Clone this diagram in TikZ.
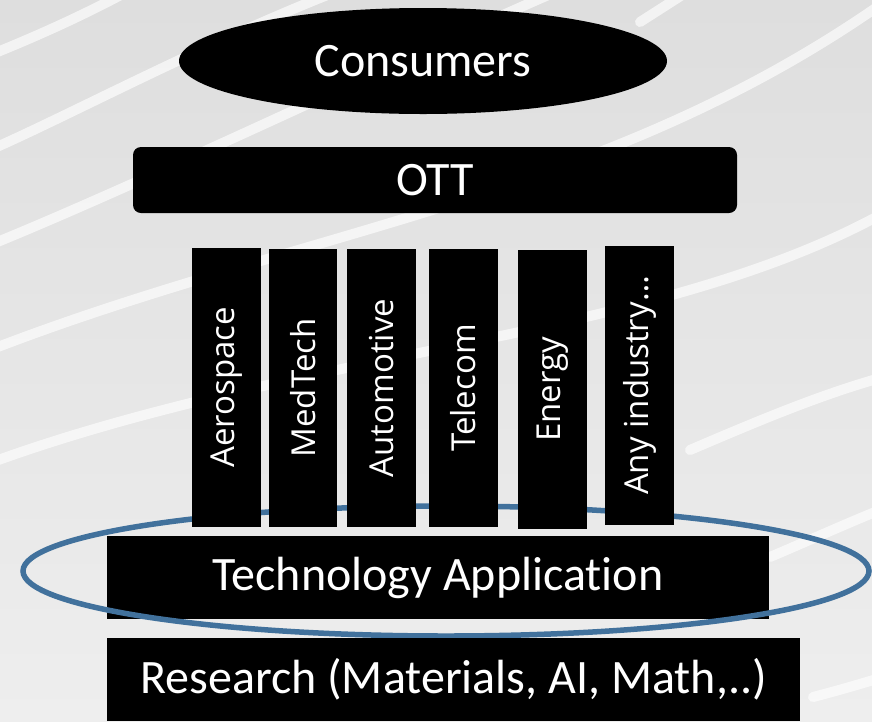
\documentclass[tikz,border=0pt]{standalone}
\usepackage{fontspec}
\setmainfont{Carlito}[Ligatures=NoCommon]
\newfontfamily\barfont{Open Sans}
\usetikzlibrary{shapes.geometric}
\definecolor{bgtop}{RGB}{222,222,222}
\definecolor{bgbot}{RGB}{238,238,238}
\definecolor{ringblue}{RGB}{65,113,156}
\tikzset{
  stripe/.style={white, opacity=0.65, line width=10pt, line cap=round},
  blackbox/.style={fill=black, draw=none, text=white, inner sep=0pt, font=\fontsize{48}{52}\selectfont},
  barbox/.style={fill=black, draw=none, text=white, inner sep=0pt, rotate=90,
    minimum height=69pt, font=\barfont\fontsize{33}{36}\selectfont},
}
\begin{document}
\begin{tikzpicture}[x=1pt,y=-1pt]
\useasboundingbox (0,0) rectangle (872,721);
% background
\shade[top color=bgtop, bottom color=bgbot] (0,0) rectangle (872,721);
\draw[stripe] (-10,55) .. controls (40,35) and (90,12) .. (130,-10);
\draw[stripe] (-10,150) .. controls (70,115) and (200,45) .. (340,-10);
\draw[stripe] (-10,245) .. controls (150,180) and (420,50) .. (560,-10);
\draw[stripe] (-10,350) .. controls (300,230) and (600,200) .. (880,5);
\draw[stripe] (-10,463) .. controls (300,350) and (650,340) .. (880,215);
\draw[stripe] (690,450) .. controls (760,420) and (820,395) .. (880,378);
\draw[stripe] (770,557) .. controls (810,540) and (850,522) .. (880,510);
\draw[stripe] (813,697) .. controls (840,690) and (860,684) .. (880,678);
\draw[stripe] (640,22) -- (690,-10);
% top
\node[blackbox, ellipse, minimum width=488pt, minimum height=106pt] (cons) at (423,61) {Consumers};
\node[blackbox, rounded corners=8pt, minimum width=604pt, minimum height=66pt] (ott) at (435,180) {OTT};
% technology application
\node[blackbox, minimum width=662pt, minimum height=83pt] (tech) at (438,577.5) {Technology Application};
\node[draw=ringblue, line width=5.5pt, ellipse, minimum width=846pt, minimum height=130pt, inner sep=0pt] (ring) at (446,571) {};
% industry bars
\node[barbox, minimum width=279pt] (aero) at (226.5,387.5) {Aerospace};
\node[barbox, minimum width=278pt, minimum height=68pt] (med) at (303,388) {MedTech};
\node[barbox, minimum width=278pt] (auto) at (381.5,388) {Automotive};
\node[barbox, minimum width=278pt] (tele) at (463.5,388) {Telecom};
\node[barbox, minimum width=279pt] (ener) at (552.5,389.5) {Energy};
\node[barbox, minimum width=279pt] (any) at (639.5,385.5) {Any industry…};
% research
\node[blackbox, minimum width=693pt, minimum height=83pt] (res) at (453.5,679.5) {Research (Materials, AI, Math,..)};
\end{tikzpicture}
\end{document}
